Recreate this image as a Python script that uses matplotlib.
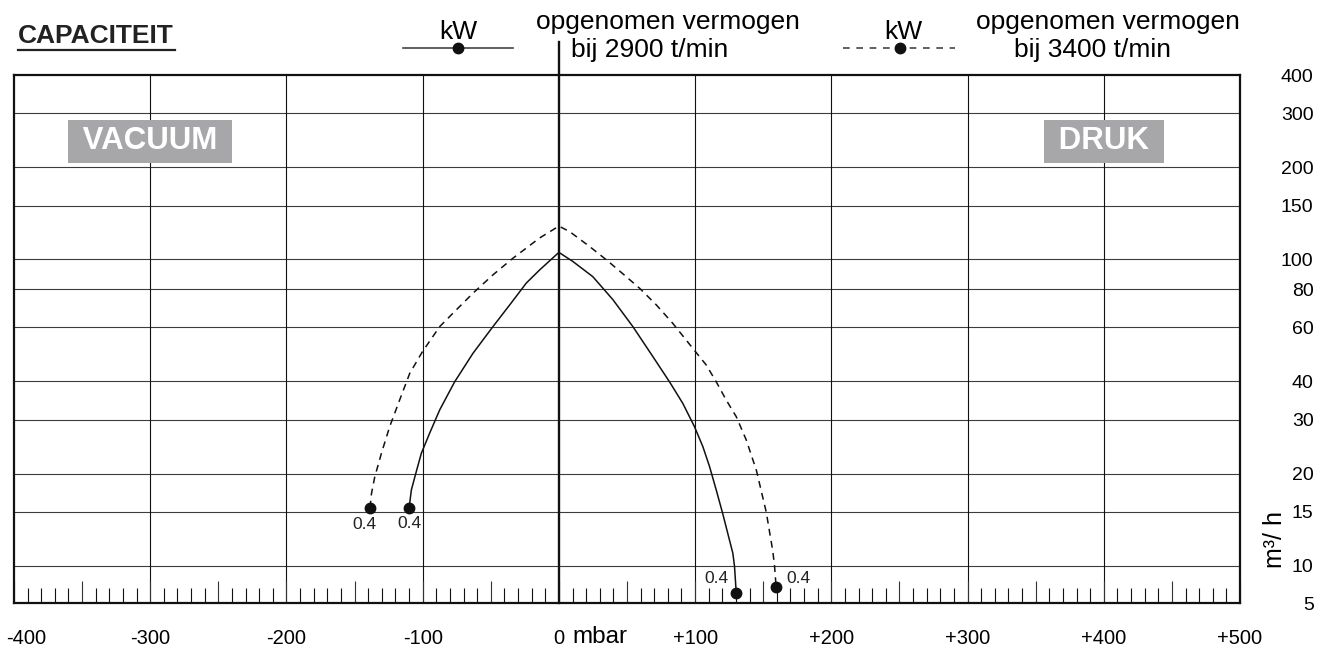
import numpy as np
import matplotlib
matplotlib.use("Agg")
import matplotlib.pyplot as plt
from matplotlib.lines import Line2D
from matplotlib.ticker import MultipleLocator, FuncFormatter, NullLocator

plt.rcParams['font.family'] = ['Liberation Sans', 'DejaVu Sans']

# Curve readings (mbar, m3/h), vacuum side negative, pressure side positive
mbar_2900 = [-110, -108.3, -105.1, -101, -94.9, -87.5, -76.5, -63.1, -48.4,
             -36.2, -23.9, -14.2, 0, 10.3, 24.9, 39.6, 54.3, 69, 81.2, 91,
             99.5, 105.7, 110.6, 115.5, 120.3, 127.7, 128.9, 130.2]
flow_2900 = [15.4, 17.7, 20.0, 23.3, 27.1, 32.3, 39.9, 49.4, 60.4,
             71.0, 83.8, 92.4, 105.5, 98.5, 87.9, 74.0, 60.4, 48.2, 39.9, 33.9,
             28.5, 24.5, 21.1, 17.7, 14.8, 11.0, 10.0, 6.35]

mbar_3400 = [-138.6, -137.6, -135.2, -130.3, -124.2, -116.9, -109.5, -100.2,
             -87.5, -75.3, -63.1, -48.4, -33.7, -14.2, 0, 7.8, 22.5, 34.8, 47,
             59.2, 71.4, 83.6, 93.4, 108.1, 115.5, 122.8, 130.2, 137.5, 145,
             152.2, 157, 158.3, 159.5]
flow_3400 = [15.5, 17.2, 19.5, 23.3, 28.5, 34.8, 42.5, 50.0,
             60.4, 68.5, 77.6, 89.1, 101, 117.5, 128.5, 123.4, 110.3, 99.8, 89.8,
             80.6, 71.2, 61.9, 54.6, 45.3, 39.9, 34.8, 30.7, 25.8, 20.5,
             15.0, 11.2, 10.0, 7.1]

end_kw = ['0.4', '0.4']  # power at the end points (start, end)

x_ticks = [-400, -300, -200, -100, 0, 100, 200, 300, 400, 500]
y_ticks = [5, 10, 15, 20, 30, 40, 60, 80, 100, 150, 200, 300, 400]
y_grid = [10, 15, 20, 30, 40, 60, 80, 100, 150, 200, 300]

W, H = 1329, 648
K = 37 / 306  # compressed part of the scale between 5 and 10


def fwd(y):
    y = np.asarray(y, float)
    return np.where(y >= 10, np.log10(np.maximum(y, 10)), 1 - (10 - y) / 5 * K)


def inv(t):
    t = np.asarray(t, float)
    return np.where(t >= 1, 10 ** np.maximum(t, 1), 10 - (1 - t) / K * 5)


def fx(px):
    return px / W


def fy(py):
    return 1 - py / H


fig = plt.figure(figsize=(W / 100, H / 100), dpi=100)
ax = fig.add_axes([fx(14), fy(603), (1240 - 14) / W, (603 - 75) / H])
ax.set_yscale('function', functions=(fwd, inv))
ax.set_xlim(-400, 500)
ax.set_ylim(5, 400)

# grid
for v in y_grid:
    ax.axhline(v, color='#3c3c3c', lw=0.8, zorder=1)
for v in x_ticks[1:-1]:
    if v != 0:
        ax.axvline(v, color='#111111', lw=0.8, zorder=1)
ax.axvline(0, ymin=0, ymax=(603 - 42) / (603 - 75), color='#111111', lw=1.7,
           clip_on=False, zorder=2)

for s in ax.spines.values():
    s.set_linewidth(1.6)
    s.set_color('#111111')

# x axis: ruler ticks every 10, longer every 50
ax.xaxis.set_major_locator(MultipleLocator(50))
ax.xaxis.set_minor_locator(MultipleLocator(10))
ax.xaxis.set_major_formatter(FuncFormatter(
    lambda v, _: '' if (v % 100 or v == x_ticks[0]) else ('0' if v == 0 else f'{v:+.0f}')))
ax.tick_params(axis='x', which='major', direction='in', length=15.8, width=0.8,
               color='#333333', pad=19, labelsize=14.5)
ax.tick_params(axis='x', which='minor', direction='in', length=10.8, width=0.8,
               color='#111111')
# first label sits inside the figure edge
fig.text(fx(26), fy(639), f'{x_ticks[0]}', ha='center', va='center', fontsize=14.5)

# y axis on the right
ax.yaxis.tick_right()
ax.set_yticks(y_ticks, [str(v) for v in y_ticks])
ax.yaxis.set_minor_locator(NullLocator())
ax.tick_params(axis='y', length=0, pad=53, labelsize=14)
for lbl in ax.get_yticklabels():
    lbl.set_horizontalalignment('right')

# curves
ax.plot(mbar_2900, flow_2900, color='#111111', lw=1.1, marker='o', ms=7.5,
        markevery=[0, len(mbar_2900) - 1], zorder=3)
ax.plot(mbar_3400, flow_3400, color='#111111', lw=1.1, ls=(0, (4.5, 3.5)),
        marker='o', ms=7.5, markevery=[0, len(mbar_3400) - 1], zorder=3)

lab = dict(textcoords='offset points', ha='center', va='center', fontsize=12.5,
           color='#222222')
ax.annotate(end_kw[0], (mbar_2900[0], flow_2900[0]), xytext=(0, -11), **lab)
ax.annotate(end_kw[0], (mbar_3400[0], flow_3400[0]), xytext=(-4, -12.5), **lab)
ax.annotate(end_kw[1], (mbar_2900[-1], flow_2900[-1]), xytext=(-14.5, 10.5), **lab)
ax.annotate(end_kw[1], (mbar_3400[-1], flow_3400[-1]), xytext=(16, 6.5), **lab)

# region labels
box = dict(boxstyle='square,pad=0.2', fc='#a7a7aa', ec='none')
ax.text(-300, 243, ' VACUUM ', ha='center', va='center', color='white',
        weight='bold', fontsize=22.5, bbox=box, zorder=4)
ax.text(400, 243, ' DRUK ', ha='center', va='center', color='white',
        weight='bold', fontsize=22.5, bbox=box, zorder=4)

# axis titles
fig.text(fx(600), fy(637), 'mbar', ha='center', va='center', fontsize=17.5)
fig.text(fx(1275), fy(540), 'm³/ h', ha='center', va='center', fontsize=18,
         rotation=90)

# header
fig.text(fx(18), fy(36), 'CAPACITEIT', ha='left', va='center', fontsize=19,
         weight='bold', color='#222222')
fig.add_artist(Line2D([fx(18), fx(175)], [fy(50), fy(50)], color='#222222', lw=1.6))

fig.add_artist(Line2D([fx(403), fx(513)], [fy(48)] * 2, color='#444444', lw=1.2))
fig.add_artist(Line2D([fx(458)], [fy(48)], marker='o', ms=7.5, color='#111111'))
fig.text(fx(458), fy(32), 'kW', ha='center', va='center', fontsize=19)
fig.text(fx(668), fy(22), 'opgenomen vermogen', ha='center', va='center', fontsize=19)
fig.text(fx(650), fy(50), 'bij 2900 t/min', ha='center', va='center', fontsize=19)

fig.add_artist(Line2D([fx(843), fx(955)], [fy(48)] * 2, color='#444444', lw=1.2,
                      ls=(0, (4, 4))))
fig.add_artist(Line2D([fx(900)], [fy(48)], marker='o', ms=7.5, color='#111111'))
fig.text(fx(903), fy(32), 'kW', ha='center', va='center', fontsize=19)
fig.text(fx(1108), fy(22), 'opgenomen vermogen', ha='center', va='center', fontsize=19)
fig.text(fx(1092), fy(50), 'bij 3400 t/min', ha='center', va='center', fontsize=19)

fig.savefig('out.png', dpi=100)
